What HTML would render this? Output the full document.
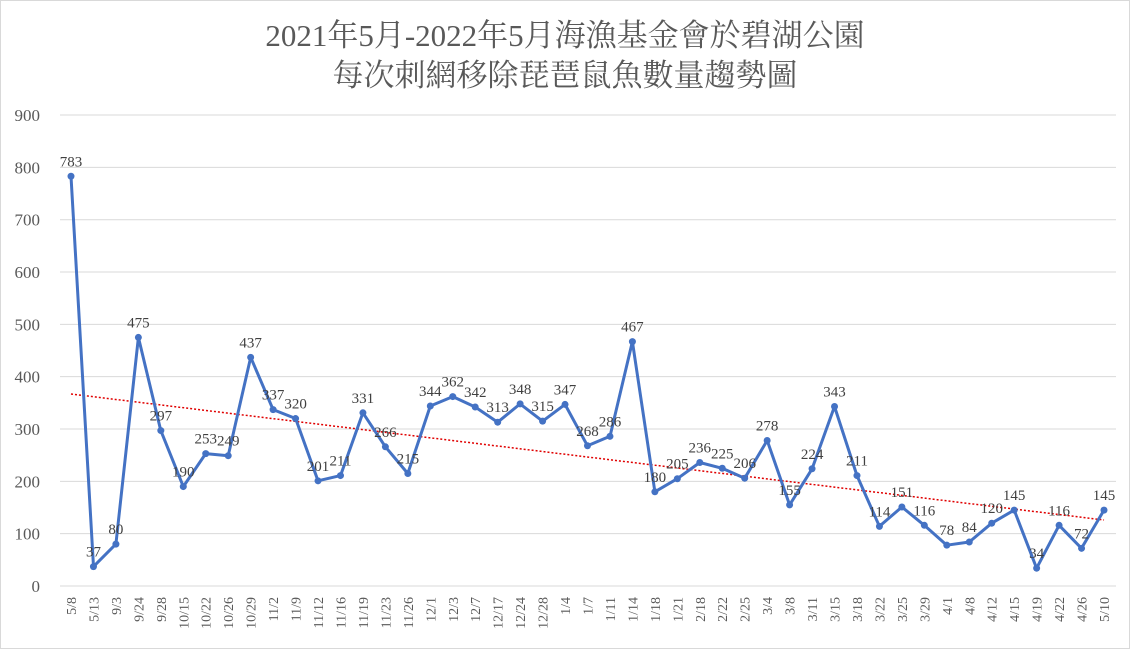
<!DOCTYPE html>
<html><head><meta charset="utf-8"><style>
body{margin:0;background:#fff}
svg{display:block}
text{font-family:"Liberation Serif","Noto Serif CJK SC",serif}
</style></head><body>
<svg width="1130" height="649" xmlns="http://www.w3.org/2000/svg">
<rect x="0.5" y="0.5" width="1129" height="648" fill="#fff" stroke="#d9d9d9"/>
<text x="565" y="46" text-anchor="middle" font-size="31" fill="#595959">2021年5月-2022年5月海漁基金會於碧湖公園</text>
<text x="565" y="86" text-anchor="middle" font-size="31" fill="#595959">每次刺網移除琵琶鼠魚數量趨勢圖</text>
<g id="grid" stroke="#d9d9d9" stroke-width="1"></g>
<g id="ylab" font-size="17" fill="#595959" text-anchor="end"></g>
<g id="xlab" font-size="14" fill="#595959"></g>
<line x1="71" y1="394" x2="1104" y2="520" stroke="#e00000" stroke-width="1.5" stroke-dasharray="2,2"/>
<polyline id="ln" fill="none" stroke="#4472c4" stroke-width="3" stroke-linejoin="round"/>
<g id="pts" fill="#4472c4"></g>
<g id="dl" font-size="15" fill="#404040" text-anchor="middle"></g>
</svg>
<script>
var L="5/8,5/13,9/3,9/24,9/28,10/15,10/22,10/26,10/29,11/2,11/9,11/12,11/16,11/19,11/23,11/26,12/1,12/3,12/7,12/17,12/24,12/28,1/4,1/7,1/11,1/14,1/18,1/21,2/18,2/22,2/25,3/4,3/8,3/11,3/15,3/18,3/22,3/25,3/29,4/1,4/8,4/12,4/15,4/19,4/22,4/26,5/10".split(",");
var V=[783,37,80,475,297,190,253,249,437,337,320,201,211,331,266,215,344,362,342,313,348,315,347,268,286,467,180,205,236,225,206,278,155,224,343,211,114,151,116,78,84,120,145,34,116,72,145];
var ns="http://www.w3.org/2000/svg";
function el(p,t,a,tx){var e=document.createElementNS(ns,t);for(var k in a)e.setAttribute(k,a[k]);if(tx!=null)e.textContent=tx;document.getElementById(p).appendChild(e);}
function Y(v){return 586-v*52.33/100;}
function X(i){return 71+i*1033/46;}
for(var g=0;g<=900;g+=100){el("grid","line",{x1:60,x2:1116,y1:Y(g),y2:Y(g)});el("ylab","text",{x:40,y:Y(g)+6},g);}
var pts=[];
for(var i=0;i<V.length;i++){var x=X(i),y=Y(V[i]);pts.push(x.toFixed(1)+","+y.toFixed(1));
el("pts","circle",{cx:x,cy:y,r:3.5});
el("dl","text",{x:x,y:y-10},V[i]);
el("xlab","text",{transform:"translate("+(x+5)+",597) rotate(-90)","text-anchor":"end"},L[i]);}
document.getElementById("ln").setAttribute("points",pts.join(" "));
</script>
</body></html>
